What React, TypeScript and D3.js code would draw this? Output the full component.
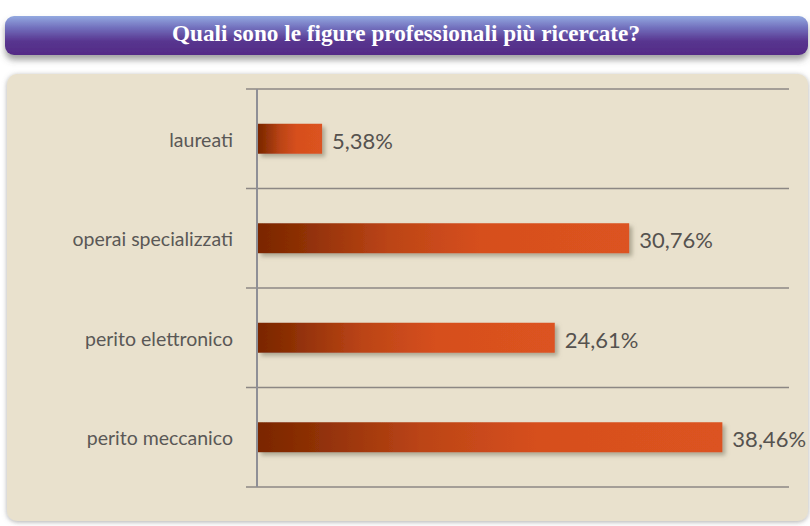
import React from "react";
import * as d3 from "d3";

const categories = ["laureati", "operai specializzati", "perito elettronico", "perito meccanico"];
const values = [5.38, 30.76, 24.61, 38.46];
const valueLabels = ["5,38%", "30,76%", "24,61%", "38,46%"];
const title = "Quali sono le figure professionali più ricercate?";

const W = 810;
const H = 526;

export default function App() {
  const x0 = 257;
  const x = d3.scaleLinear().domain([0, 40]).range([x0, x0 + 484]);
  const y = d3.scaleBand<string>().domain(categories).range([89, 487]);
  const step = y.step();
  const barH = 30;
  const gridX1 = 246;
  const gridX2 = 789;
  const bounds = [...categories.map((c) => y(c) as number), 487];
  const font = "Lato, 'Open Sans', sans-serif";

  return (
    <svg width={W} height={H} style={{ position: "absolute", left: 0, top: 0, display: "block" }}>
      <defs>
        <linearGradient id="titleGrad" x1="0" y1="0" x2="0" y2="1">
          <stop offset="0%" stopColor="#93a9e0" />
          <stop offset="30%" stopColor="#7270bd" />
          <stop offset="65%" stopColor="#58358f" />
          <stop offset="100%" stopColor="#532a86" />
        </linearGradient>
        <linearGradient id="barGrad" x1="0" y1="0" x2="1" y2="0">
          <stop offset="0%" stopColor="#7a2600" />
          <stop offset="12%" stopColor="#8e3006" />
          <stop offset="35%" stopColor="#bb4416" />
          <stop offset="60%" stopColor="#d64f1e" />
          <stop offset="100%" stopColor="#dc5320" />
        </linearGradient>
        <filter id="titleShadow" x="-5%" y="-40%" width="110%" height="200%">
          <feDropShadow dx="0" dy="5" stdDeviation="3" floodColor="#555" floodOpacity="0.55" />
        </filter>
        <filter id="panelShadow" x="-5%" y="-5%" width="110%" height="110%">
          <feDropShadow dx="0" dy="1" stdDeviation="2.5" floodColor="#777" floodOpacity="0.6" />
        </filter>
        <filter id="barShadow" x="-10%" y="-20%" width="130%" height="160%">
          <feDropShadow dx="3" dy="3" stdDeviation="2" floodColor="#7a7460" floodOpacity="0.55" />
        </filter>
      </defs>
      <rect x={0} y={0} width={W} height={H} fill="#ffffff" />

      {/* title bar */}
      <rect x={5} y={16} width={803} height={39} rx={9} ry={9} fill="url(#titleGrad)" filter="url(#titleShadow)" />
      <text
        x={406}
        y={41}
        textAnchor="middle"
        fill="#ffffff"
        fontFamily="'Liberation Serif', serif"
        fontWeight="bold"
        fontSize={23}
        textLength={468}
        lengthAdjust="spacingAndGlyphs"
      >
        {title}
      </text>

      {/* panel */}
      <rect x={7} y={74} width={801} height={447} rx={10} ry={10} fill="#e9e1cd" filter="url(#panelShadow)" />

      {/* gridlines */}
      {bounds.map((b, i) => (
        <line key={"g" + i} x1={gridX1} x2={gridX2} y1={b} y2={b} stroke="#8c8784" strokeWidth={1.5} />
      ))}
      <line x1={x0} x2={x0} y1={89} y2={487} stroke="#8f8f96" strokeWidth={2} />

      {/* bars */}
      {categories.map((c, i) => {
        const yc = (y(c) as number) + step / 2;
        return (
          <g key={c}>
            <rect
              x={x0 + 1}
              y={yc - barH / 2}
              width={x(values[i]) - x0 - 1}
              height={barH}
              fill="url(#barGrad)"
              filter="url(#barShadow)"
            />
            <text
              x={x(values[i]) + 10}
              y={yc + 10}
              fill="#55524f"
              fontFamily={font}
              fontSize={22}
            >
              {valueLabels[i]}
            </text>
            <text
              x={233}
              y={yc + 8}
              textAnchor="end"
              fill="#5a5856"
              fontFamily={font}
              fontSize={19.5}
            >
              {c}
            </text>
          </g>
        );
      })}
    </svg>
  );
}
